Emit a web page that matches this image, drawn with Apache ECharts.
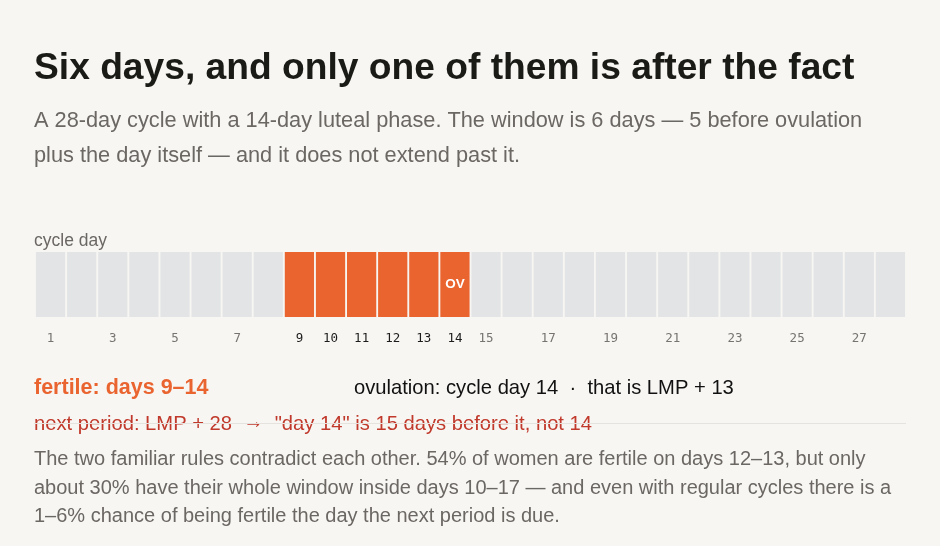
<!DOCTYPE html>
<html lang="en">
<head>
    <meta charset="UTF-8">
    <title>Six days</title>
    <style>
        html, body { margin: 0; padding: 0; background: #f7f6f3; }
        #chart { width: 940px; height: 546px; }
    </style>
    <script src="https://cdn.jsdelivr.net/npm/echarts@6/dist/echarts.min.js"></script>
</head>
<body>
    <div id="chart"></div>
</body>
<script>
    // cycle days 1..28
    var days = ['1','2','3','4','5','6','7','8','9','10','11','12','13','14',
                '15','16','17','18','19','20','21','22','23','24','25','26','27','28'];
    // every day is one cell of the strip
    var cellValues = [1,1,1,1,1,1,1,1,1,1,1,1,1,1,1,1,1,1,1,1,1,1,1,1,1,1,1,1];
    // fertile window and ovulation day
    var fertileDays = ['9','10','11','12','13','14'];
    var ovulationDay = '14';

    var ORANGE = '#ea6430';
    var GREY = '#e3e4e6';
    var RED = '#c0392b';
    var FONT = '"Liberation Sans", Arial, sans-serif';

    var mCharts = echarts.init(document.getElementById('chart'));

    function txt(text, x, y, size, color, weight) {
        return {
            type: 'text', x: x, y: y, silent: true,
            style: {
                text: text,
                font: (weight || 'normal') + ' ' + size + 'px ' + FONT,
                fill: color,
                align: 'left', verticalAlign: 'middle',
                textAlign: 'left', textVerticalAlign: 'middle'
            }
        };
    }

    var seriesData = cellValues.map(function (v, i) {
        var fertile = fertileDays.indexOf(days[i]) >= 0;
        return {
            value: v,
            itemStyle: { color: fertile ? ORANGE : GREY },
            label: {
                show: days[i] === ovulationDay,
                formatter: 'OV'
            }
        };
    });

    // next period line, arrow drawn lighter
    var nextPeriod = txt('{t|next period: LMP + 28  }{a|\u2192}{t|  "day 14" is 15 days before it, not 14}',
                         34, 424, 20.2, RED);
    nextPeriod.style.rich = {
        t: { fontFamily: FONT, fontSize: 20.2, color: RED },
        a: { fontFamily: FONT, fontSize: 20.2, color: '#d6857b', padding: [0, 0, 4, 0] }
    };

    var option = {
        backgroundColor: '#f7f6f3',
        animation: false,
        grid: { left: 35, right: 34, top: 252, height: 65 },
        xAxis: {
            type: 'category',
            data: days,
            axisLine: { show: false },
            axisTick: { show: false },
            axisLabel: {
                margin: 15,
                interval: 0,
                fontFamily: '"DejaVu Sans Mono", monospace',
                fontSize: 12.5,
                formatter: function (d) {
                    var n = parseInt(d, 10);
                    if (fertileDays.indexOf(d) >= 0) return '{hi|' + d + '}';
                    if (n % 2 === 1) return '{lo|' + d + '}';
                    return '';
                },
                rich: {
                    hi: { color: '#1c1c1c', fontFamily: '"DejaVu Sans Mono", monospace', fontSize: 12.5 },
                    lo: { color: '#777470', fontFamily: '"DejaVu Sans Mono", monospace', fontSize: 12.5 }
                }
            }
        },
        yAxis: { type: 'value', min: 0, max: 1, show: false },
        series: [{
            type: 'bar',
            data: seriesData,
            barCategoryGap: '6%',
            label: {
                position: 'inside',
                color: '#ffffff',
                fontWeight: 'bold',
                fontSize: 13.5,
                fontFamily: FONT
            }
        }],
        graphic: [
            txt('Six days, and only one of them is after the fact', 34, 69, 37.2, '#1a1a17', 'bold'),
            txt('A 28-day cycle with a 14-day luteal phase. The window is 6 days \u2014 5 before ovulation', 34, 120.5, 21.75, '#6b6763'),
            txt('plus the day itself \u2014 and it does not extend past it.', 34, 155.5, 21.75, '#6b6763'),
            txt('cycle day', 34, 241, 17.5, '#6b6763'),
            txt('fertile: days 9\u201314', 34, 388.5, 21.5, ORANGE, 'bold'),
            txt('ovulation: cycle day 14  \u00b7  that is LMP + 13', 354, 388, 20.2, '#111111'),
            nextPeriod,
            {
                type: 'line', silent: true,
                shape: { x1: 34, y1: 423.5, x2: 906, y2: 423.5 },
                style: { stroke: '#e6e3de', lineWidth: 1 }
            },
            txt('The two familiar rules contradict each other. 54% of women are fertile on days 12\u201313, but only', 34, 459, 20, '#6b6763'),
            txt('about 30% have their whole window inside days 10\u201317 \u2014 and even with regular cycles there is a', 34, 488, 20, '#6b6763'),
            txt('1\u20136% chance of being fertile the day the next period is due.', 34, 516.5, 20, '#6b6763')
        ]
    };

    mCharts.setOption(option);
</script>
</html>
